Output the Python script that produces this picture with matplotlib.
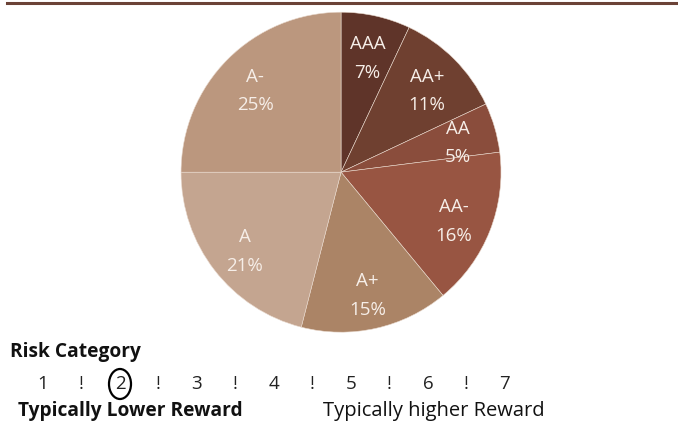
import matplotlib
matplotlib.use("Agg")
import matplotlib.pyplot as plt
from matplotlib.patches import Ellipse
from matplotlib.lines import Line2D

plt.rcParams['font.family'] = ['Open Sans', 'DejaVu Sans']

# rating split of the portfolio, clockwise from the top
ratings = ["AAA", "AA+", "AA", "AA-", "A+", "A", "A-"]
shares = [7, 11, 5, 16, 15, 21, 25]
slice_colors = ["#5f3429", "#6f4030", "#8a4d3c", "#985542", "#ab8466", "#c4a590", "#bb977e"]

risk_levels = [1, 2, 3, 4, 5, 6, 7]
selected_level = 2

fig = plt.figure(figsize=(6.78, 4.21), dpi=100)

# rule across the top
fig.add_artist(Line2D([7 / 678, 1.0], [1 - 3 / 421, 1 - 3 / 421], color="#6b4237", lw=2.2))

ax = fig.add_axes([0.267, 0.211, 0.472, 0.760])
labels = ["{}\n{}%".format(r, s) for r, s in zip(ratings, shares)]
wedges, texts = ax.pie(shares,
                       colors=slice_colors,
                       startangle=90,
                       counterclock=False,
                       radius=1.0,
                       labels=labels,
                       labeldistance=0.76,
                       wedgeprops=dict(edgecolor="#e8d8cc", linewidth=0.4),
                       textprops=dict(color="#f6eee8", fontsize=13.5, ha="center",
                                      va="center", linespacing=1.75))
# labels sit a touch lower in the original
for t in texts:
    x0, y0 = t.get_position()
    t.set_position((x0, y0 - 0.03))
ax.set_aspect("equal")
ax.set_xlim(-1, 1)
ax.set_ylim(-1, 1)

# risk scale underneath
fig.text(10 / 678, 1 - 352 / 421, "Risk Category", fontsize=13.8, fontweight="bold",
         ha="left", va="center", color="#111111")
y_scale = 1 - 384 / 421
for i, lvl in enumerate(risk_levels):
    x = (43 + 77 * i) / 678
    fig.text(x, y_scale, str(lvl), fontsize=13.5, ha="center", va="center", color="#222222")
    if i < len(risk_levels) - 1:
        fig.text(x + 38.5 / 678, y_scale, "!", fontsize=13.5, ha="center", va="center",
                 color="#222222")
    if lvl == selected_level:
        fig.add_artist(Ellipse((x, y_scale), 22 / 678, 30 / 421, transform=fig.transFigure,
                               fill=False, edgecolor="black", lw=1.6))

fig.text(18 / 678, 1 - 411 / 421, "Typically Lower Reward", fontsize=13.8, fontweight="bold",
         ha="left", va="center", color="#111111")
fig.text(323 / 678, 1 - 411 / 421, "Typically higher Reward", fontsize=14.5,
         ha="left", va="center", color="#111111")

fig.savefig("out.png", dpi=100, facecolor="white")
